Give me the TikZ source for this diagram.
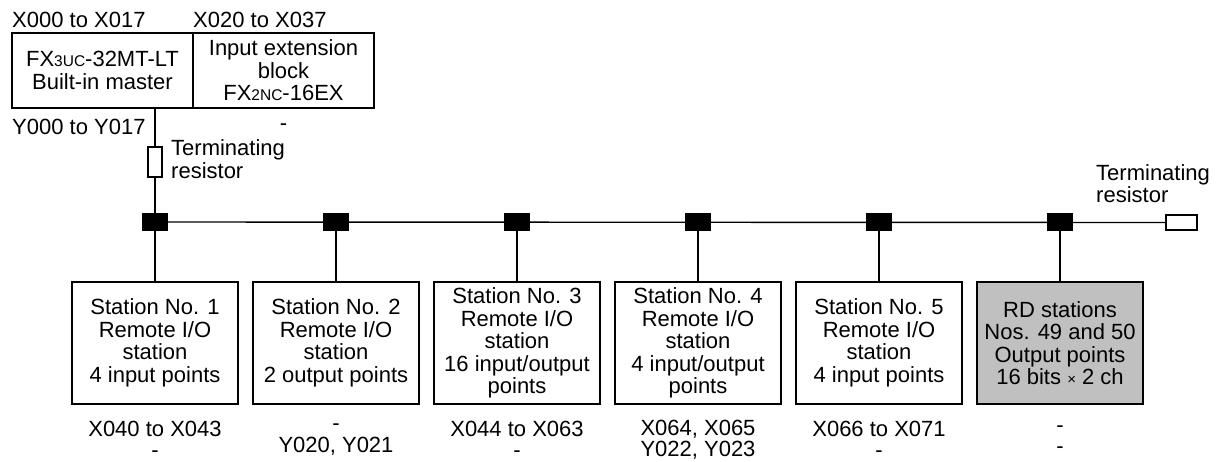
\documentclass[tikz,border=0pt]{standalone}
\usepackage{fontspec}
\setmainfont{Liberation Sans}
\definecolor{rdgray}{RGB}{192,192,192}
\newcommand{\smpart}[1]{{\fontsize{15.5}{15.5}\selectfont #1}}
\begin{document}
\begin{tikzpicture}[x=1pt,y=-1pt,
  every node/.style={font=\fontsize{22}{22.5}\selectfont, inner sep=0pt},
  dev/.style={draw, line width=1.4pt, minimum width=181pt, minimum height=75pt, align=center},
  stn/.style={draw, line width=1.4pt, minimum width=166pt, minimum height=122pt, align=center},
  jct/.style={fill=black, draw=black, minimum width=25pt, minimum height=17pt},
  res/.style={draw, line width=1.4pt, fill=white},
  lbl/.style={align=center, font=\fontsize{22}{21.5}\selectfont},
  wire/.style={line width=1.4pt}]
\useasboundingbox (0,0) rectangle (1231,461);

% master and extension
\node[dev] (master) at (102.5,70.5) {FX\smpart{3UC}-32MT-LT\\Built-in master};
\node[dev] (ext) at (283.5,70.5) {Input extension\\block\\FX\smpart{2NC}-16EX};
\node[anchor=west] (xm) at (12,20) {X000 to X017};
\node[anchor=west] (xe) at (193,20) {X020 to X037};
\node[anchor=west] (ym) at (12,127) {Y000 to Y017};
\node (ye) at (283.5,127) {-};

% terminating resistors
\node[res, minimum width=14pt, minimum height=30pt] (rl) at (155,162) {};
\node[anchor=west, align=left] (rlt) at (171,159) {Terminating\\resistor};
\node[res, minimum width=31pt, minimum height=15pt] (rr) at (1181.5,222.5) {};
\node[anchor=west, align=left] (rrt) at (1096,183.5) {Terminating\\resistor};

% junctions
\foreach \i/\x in {1/155,2/336,3/517,4/698,5/879,6/1060}{
  \node[jct] (j\i) at (\x,222) {};
}

% bus and drops
\draw[wire] (master.south -| rl) -- (rl.north);
\draw[wire] (rl.south) -- (j1.center);
\draw[wire] (j1.center) -- (rr.west);

% stations
\node[stn] (s1) at (155,343) {Station No. 1\\Remote I/O\\station\\4 input points};
\node[stn] (s2) at (336,343) {Station No. 2\\Remote I/O\\station\\2 output points};
\node[stn] (s3) at (517,343) {Station No. 3\\Remote I/O\\station\\16 input/output\\points};
\node[stn] (s4) at (698,343) {Station No. 4\\Remote I/O\\station\\4 input/output\\points};
\node[stn] (s5) at (879,343) {Station No. 5\\Remote I/O\\station\\4 input points};
\node[stn, fill=rdgray] (s6) at (1060,343) {RD stations\\Nos. 49 and 50\\Output points\\16 bits {\fontsize{15}{15}\selectfont ×} 2 ch};

\foreach \i in {1,...,6}{
  \draw[wire] (j\i.center) -- (s\i.north);
}

% address labels
\node[lbl] (a1) at (155,439.5) {X040 to X043\\-};
\node[lbl] (a2) at (336,439.5) {-\\Y020, Y021};
\node[lbl] (a3) at (517,439.5) {X044 to X063\\-};
\node[lbl] (a4) at (698,439.5) {X064, X065\\Y022, Y023};
\node[lbl] (a5) at (879,439.5) {X066 to X071\\-};
\node[lbl] (a6) at (1060,439.5) {-\\-};
\end{tikzpicture}
\end{document}
